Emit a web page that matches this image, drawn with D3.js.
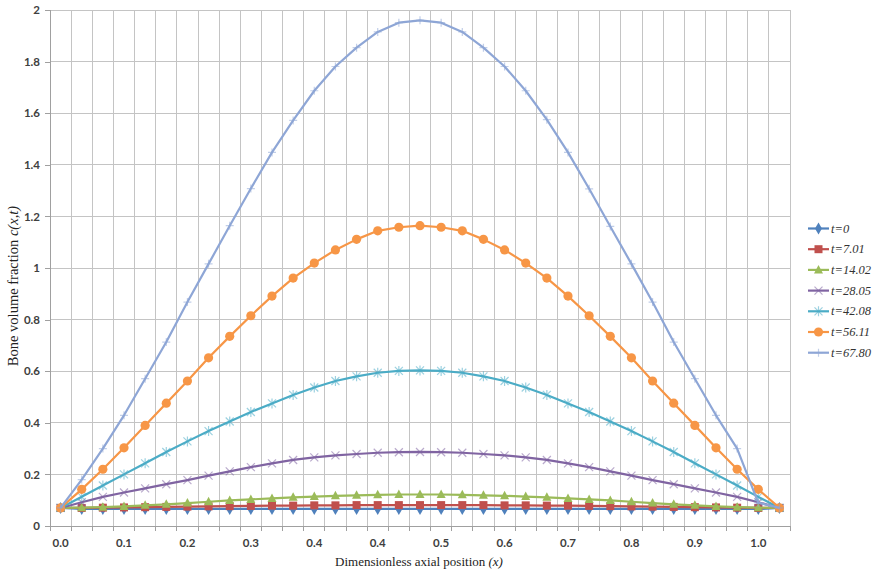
<!DOCTYPE html>
<html><head><meta charset="utf-8">
<script src="https://cdn.jsdelivr.net/npm/d3@7"></script>
<style>body{margin:0;background:#fff} svg{display:block}</style>
</head><body><svg id="chart" width="882" height="573"></svg>
<script>
// ---- data ----
const xPositions = [0.00,0.03,0.06,0.09,0.12,0.15,0.18,0.21,0.24,0.27,0.30,0.33,0.36,0.39,0.42,0.45,0.48,0.51,0.54,0.57,0.60,0.63,0.66,0.69,0.72,0.75,0.78,0.81,0.84,0.87,0.90,0.93,0.96,0.99,1.02];
const xTickLabels = ["0.0","0.1","0.2","0.3","0.4","0.4","0.5","0.6","0.7","0.8","0.9","1.0"];
const yTicks = [0,0.2,0.4,0.6,0.8,1.0,1.2,1.4,1.6,1.8,2.0];
const seriesNames = ["t=0","t=7.01","t=14.02","t=28.05","t=42.08","t=56.11","t=67.80"];
const cT0    = [0.07,0.066,0.066,0.066,0.066,0.066,0.066,0.066,0.066,0.066,0.066,0.066,0.066,0.066,0.066,0.066,0.066,0.066,0.066,0.066,0.066,0.066,0.066,0.066,0.066,0.066,0.066,0.066,0.066,0.066,0.066,0.066,0.066,0.066,0.07];
const cT701  = [0.07,0.07,0.071,0.072,0.073,0.074,0.075,0.076,0.077,0.078,0.079,0.079,0.08,0.08,0.081,0.081,0.081,0.081,0.081,0.081,0.081,0.08,0.08,0.079,0.079,0.078,0.077,0.076,0.075,0.074,0.073,0.072,0.071,0.07,0.07];
const cT1402 = [0.07,0.071,0.073,0.076,0.08,0.084,0.089,0.094,0.099,0.103,0.107,0.111,0.114,0.117,0.119,0.121,0.122,0.122,0.122,0.121,0.119,0.117,0.114,0.111,0.107,0.103,0.099,0.094,0.089,0.084,0.08,0.076,0.073,0.071,0.07];
const cT2805 = [0.07,0.092,0.113,0.13,0.146,0.162,0.178,0.195,0.212,0.228,0.243,0.256,0.266,0.274,0.279,0.284,0.286,0.287,0.286,0.284,0.279,0.274,0.266,0.256,0.243,0.228,0.212,0.195,0.178,0.162,0.146,0.13,0.113,0.092,0.07];
const cT4208 = [0.07,0.113,0.157,0.2,0.243,0.287,0.328,0.368,0.405,0.442,0.475,0.508,0.537,0.562,0.58,0.594,0.601,0.603,0.601,0.594,0.58,0.562,0.537,0.508,0.475,0.442,0.405,0.368,0.328,0.287,0.243,0.2,0.157,0.113,0.07];
const cT5611 = [0.07,0.142,0.22,0.303,0.39,0.476,0.562,0.652,0.735,0.815,0.891,0.961,1.019,1.07,1.111,1.144,1.158,1.164,1.158,1.144,1.111,1.07,1.019,0.961,0.891,0.815,0.735,0.652,0.562,0.476,0.39,0.303,0.22,0.142,0.07];
const cT6780 = [0.07,0.18,0.30,0.429,0.571,0.713,0.868,1.016,1.164,1.308,1.448,1.572,1.687,1.781,1.854,1.915,1.951,1.960,1.951,1.915,1.854,1.781,1.687,1.575,1.448,1.307,1.161,1.016,0.868,0.713,0.571,0.429,0.30,0.09,0.07];

const seriesValues = [cT0,cT701,cT1402,cT2805,cT4208,cT5611,cT6780];
const colors = ["#4F81BD","#C0504D","#9BBB59","#8064A2","#4BACC6","#F79646","#8EA6D6"];
const markerKinds = ["diamond","square","triangle","x","asterisk","circle","plus"];

// ---- layout ----
const svg = d3.select("#chart");
const L = 50, R = 790, T = 10, B = 526;
const x = d3.scaleBand().domain(xPositions).range([L, R]).padding(0);
const y = d3.scaleLinear().domain([0, 2]).range([B, T]);
const cx = v => x(v) + x.bandwidth() / 2;

// grid
const grid = svg.append("g").attr("stroke", "#c4c4c4").attr("stroke-width", 1).attr("shape-rendering","crispEdges");
xPositions.forEach(v => grid.append("line").attr("x1", x(v)).attr("x2", x(v)).attr("y1", T).attr("y2", B));
grid.append("line").attr("x1", R).attr("x2", R).attr("y1", T).attr("y2", B);
yTicks.forEach(t => grid.append("line").attr("x1", L).attr("x2", R).attr("y1", y(t)).attr("y2", y(t)));

// x tick marks under the axis
const xt = svg.append("g").attr("stroke", "#a0a0a0").attr("shape-rendering","crispEdges");
xPositions.forEach(v => xt.append("line").attr("x1", x(v)).attr("x2", x(v)).attr("y1", B).attr("y2", B + 5));
xt.append("line").attr("x1", R).attr("x2", R).attr("y1", B).attr("y2", B + 5);
xt.append("line").attr("x1", L).attr("x2", R).attr("y1", B).attr("y2", B);
xt.append("line").attr("x1", L).attr("x2", L).attr("y1", T).attr("y2", B);

// x axis labels
const labelVals = xPositions.filter((d, i) => i % 3 === 0);
const xAxis = d3.axisBottom(x).tickValues(labelVals)
  .tickFormat(d => xTickLabels[labelVals.indexOf(d)]).tickSize(0).tickPadding(13);
const gx = svg.append("g").attr("transform", `translate(0,${B})`).call(xAxis);
gx.select(".domain").remove();
gx.selectAll("text").attr("font-family", "Lato, 'Open Sans', sans-serif").attr("font-size", 11.5)
  .attr("font-weight", "bold").attr("fill", "#404040");

// y axis
const yAxis = d3.axisLeft(y).tickValues(yTicks).tickFormat(d => String(+d.toFixed(1))).tickSize(5).tickPadding(5);
const gy = svg.append("g").attr("transform", `translate(${L},0)`).call(yAxis);
gy.select(".domain").remove();
gy.selectAll("line").attr("stroke", "#a0a0a0").attr("shape-rendering","crispEdges");
gy.selectAll("text").attr("font-family", "Lato, 'Open Sans', sans-serif").attr("font-size", 11.5)
  .attr("font-weight", "bold").attr("fill", "#404040");

// axis titles
const xTitle = svg.append("text").attr("x", 419).attr("y", 566).attr("text-anchor", "middle")
  .attr("font-family", "'Liberation Serif', 'DejaVu Serif', serif").attr("font-size", 13).attr("fill", "#222");
xTitle.append("tspan").text("Dimensionless  axial position ");
xTitle.append("tspan").attr("font-style", "italic").text("(x)");
const yTitle = svg.append("text").attr("transform", "translate(18,286) rotate(-90)").attr("text-anchor", "middle")
  .attr("font-family", "'Liberation Serif', 'DejaVu Serif', serif").attr("font-size", 14.5).attr("fill", "#222");
yTitle.append("tspan").text("Bone volume  fraction ");
yTitle.append("tspan").attr("font-style", "italic").text("c(x,t)");

// marker drawing
function drawMarker(g, kind, color, px, py) {
  if (kind === "diamond") {
    g.append("path").attr("d", d3.symbol(d3.symbolDiamond, 42)()).attr("transform", `translate(${px},${py})`).attr("fill", color);
  } else if (kind === "square") {
    g.append("rect").attr("x", px - 4).attr("y", py - 4).attr("width", 8).attr("height", 8).attr("fill", color);
  } else if (kind === "triangle") {
    g.append("path").attr("d", `M${px},${py-5}L${px+4.5},${py+3.5}L${px-4.5},${py+3.5}Z`).attr("fill", color);
  } else if (kind === "circle") {
    g.append("circle").attr("cx", px).attr("cy", py).attr("r", 4.6).attr("fill", color);
  } else {
    const s = 4;
    let d = "";
    if (kind === "x" || kind === "asterisk") d += `M${px-s},${py-s}L${px+s},${py+s}M${px-s},${py+s}L${px+s},${py-s}`;
    if (kind === "plus" ) d += `M${px-s},${py}L${px+s},${py}M${px},${py-s}L${px},${py+s}`;
    if (kind === "asterisk") d += `M${px},${py-s-1}L${px},${py+s+1}`;
    g.append("path").attr("d", d).attr("stroke", color).attr("stroke-width", 1.2).attr("fill", "none").attr("opacity", 0.55);
  }
}

// series
const line = d3.line().x((d, i) => cx(xPositions[i])).y(d => y(d));
seriesValues.forEach((vals, si) => {
  const g = svg.append("g");
  g.append("path").datum(vals).attr("d", line).attr("fill", "none")
    .attr("stroke", colors[si]).attr("stroke-width", 2.2).attr("stroke-linejoin", "round");
  vals.forEach((v, i) => drawMarker(g, markerKinds[si], colors[si], cx(xPositions[i]), y(v)));
});

// legend
const leg = svg.append("g");
seriesNames.forEach((name, i) => {
  const ly = 228.5 + i * 20.7;
  leg.append("line").attr("x1", 808).attr("x2", 829).attr("y1", ly).attr("y2", ly)
    .attr("stroke", colors[i]).attr("stroke-width", 2.2);
  drawMarker(leg, markerKinds[i], colors[i], 818.5, ly);
  leg.append("text").attr("x", 831).attr("y", ly + 4).text(name)
    .attr("font-family", "'Liberation Serif', 'DejaVu Serif', serif").attr("font-style", "italic")
    .attr("font-size", 12.5).attr("fill", "#333");
});
</script></body></html>
